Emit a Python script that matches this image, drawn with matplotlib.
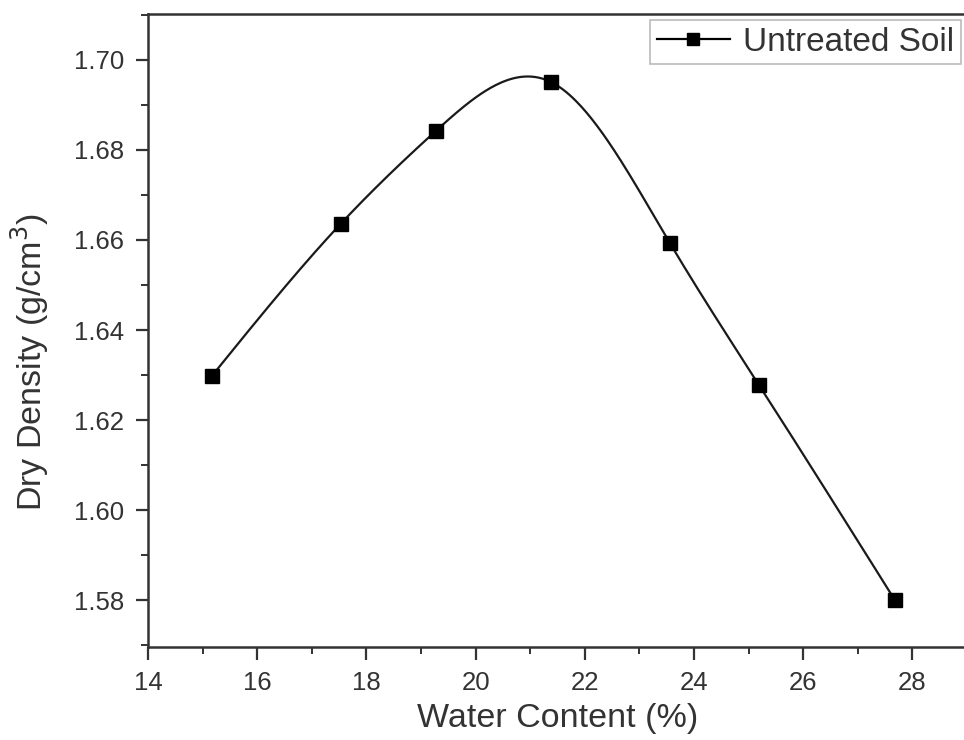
import numpy as np
import matplotlib.pyplot as plt
from matplotlib.ticker import MultipleLocator

plt.rcParams['font.family'] = ['Liberation Sans', 'DejaVu Sans']

# compaction test points
water = [15.17, 17.53, 19.27, 21.38, 23.56, 25.19, 27.68]
density = [1.6298, 1.6636, 1.6842, 1.6951, 1.6593, 1.6278, 1.5800]
label = 'Untreated Soil'


def natural_spline(x, y, xs):
    # plain natural cubic spline, used only to draw the smooth connecting line
    x = np.asarray(x, float)
    y = np.asarray(y, float)
    n = len(x)
    h = np.diff(x)
    A = np.zeros((n, n))
    b = np.zeros(n)
    A[0, 0] = 1
    A[-1, -1] = 1
    for i in range(1, n - 1):
        A[i, i - 1] = h[i - 1]
        A[i, i] = 2 * (h[i - 1] + h[i])
        A[i, i + 1] = h[i]
        b[i] = 3 * ((y[i + 1] - y[i]) / h[i] - (y[i] - y[i - 1]) / h[i - 1])
    c = np.linalg.solve(A, b)
    out = np.empty_like(xs)
    for k, xv in enumerate(xs):
        i = min(max(np.searchsorted(x, xv) - 1, 0), n - 2)
        dx = xv - x[i]
        bi = (y[i + 1] - y[i]) / h[i] - h[i] * (2 * c[i] + c[i + 1]) / 3
        di = (c[i + 1] - c[i]) / (3 * h[i])
        out[k] = y[i] + bi * dx + c[i] * dx ** 2 + di * dx ** 3
    return out


fig = plt.figure(figsize=(9.64, 7.40), dpi=100)
ax = fig.add_axes([0.1535, 0.1257, 0.8496, 0.8554])

xs = np.linspace(water[0], water[-1], 400)
ax.plot(xs, natural_spline(water, density, xs), color='#1a1a1a', lw=1.6)
ax.plot(water, density, 's', color='black', ms=10)
# legend handle: line with marker
ax.plot([], [], '-s', color='black', lw=1.6, ms=8, label=label)

ax.set_xlim(14, 29)
ax.set_ylim(1.5696, 1.7102)
ax.xaxis.set_major_locator(MultipleLocator(2))
ax.xaxis.set_minor_locator(MultipleLocator(1))
ax.yaxis.set_major_locator(MultipleLocator(0.02))
ax.yaxis.set_minor_locator(MultipleLocator(0.01))
ax.yaxis.set_major_formatter(plt.FormatStrFormatter('%.2f'))

for s in ax.spines.values():
    s.set_linewidth(1.8)
    s.set_color('#333333')
ax.tick_params(which='major', length=9, width=1.6, colors='#333333',
               labelsize=18.5, labelcolor='#333333', direction='out')
ax.tick_params(which='minor', length=5, width=1.4, colors='#333333', direction='out')
ax.tick_params(axis='x', pad=8)
ax.tick_params(axis='y', pad=8)

ax.set_xlabel('Water Content (%)', fontsize=24.5, color='#333333', labelpad=6)
ax.set_ylabel('Dry Density (g/cm$^3$)', fontsize=24.5, color='#333333')
ax.yaxis.set_label_coords(-0.118, 0.45)

leg = ax.legend(loc='upper right', bbox_to_anchor=(0.997, 0.996), fontsize=24,
                frameon=True, fancybox=False, handlelength=2.2, borderpad=0.2,
                handletextpad=0.4, borderaxespad=0.1)
leg.get_frame().set_edgecolor('#aaaaaa')
leg.get_frame().set_linewidth(1.2)
for t in leg.get_texts():
    t.set_color('#333333')

fig.savefig('out.png', dpi=100)
